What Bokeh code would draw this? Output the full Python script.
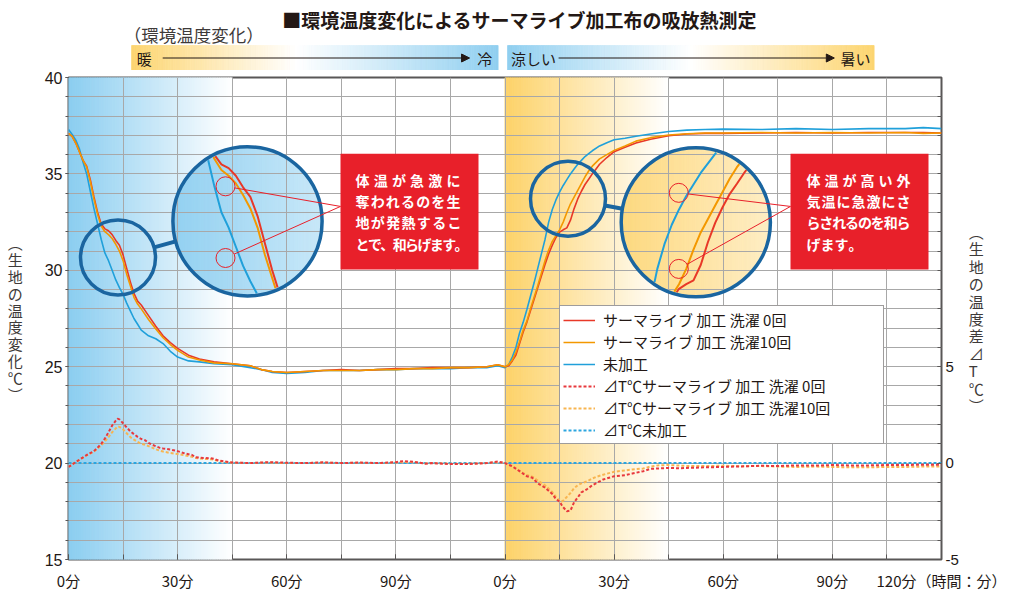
import numpy as np
from bokeh.plotting import figure
from bokeh.models import (Range1d, LinearAxis, FixedTicker, Legend, LegendItem,
                          Arrow, NormalHead)
from bokeh.layouts import column
from bokeh.embed import file_html
from bokeh.resources import INLINE
from bokeh.core.properties import value

# ------------------------------------------------------------------ data
# phase 1: warm -> cold environment (minutes 0..120)
phase1_min = [0, 1, 2, 3, 4, 5, 6, 7, 8, 9, 10, 11, 12, 13, 14, 15, 16, 17, 18, 19, 20,
              22, 24, 26, 28, 30, 33, 36, 40, 45, 50, 53, 56, 60, 65, 70, 75, 80, 85,
              90, 95, 100, 105, 110, 115, 118, 120]
untreated_1 = [37.3, 37.05, 36.75, 36.3, 35.6, 35.0, 34.1, 33.2, 32.4, 31.6, 30.9, 30.5,
               30.0, 29.5, 29.1, 28.75, 28.3, 27.9, 27.5, 27.2, 26.9, 26.6, 26.45, 26.2,
               25.8, 25.5, 25.3, 25.25, 25.15, 25.1, 24.95, 24.85, 24.7, 24.65, 24.7, 24.8,
               24.8, 24.8, 24.85, 24.85, 24.9, 24.9, 24.9, 24.95, 24.95, 25.05, 24.95]
wash0_1 = [37.1, 36.95, 36.6, 36.15, 35.7, 35.4, 34.7, 33.8, 33.0, 32.4, 32.15, 32.05,
           31.85, 31.55, 31.3, 30.8, 30.1, 29.4, 28.8, 28.4, 28.2, 27.65, 27.1, 26.6,
           26.25, 25.95, 25.6, 25.4, 25.25, 25.15, 25.05, 24.85, 24.75, 24.7, 24.75, 24.8,
           24.85, 24.8, 24.85, 24.9, 24.9, 24.95, 24.95, 24.95, 25.0, 25.1, 25.0]
wash10_1 = [37.1, 36.95, 36.6, 36.15, 35.7, 35.35, 34.6, 33.7, 32.9, 32.3, 32.0, 31.85,
            31.65, 31.35, 31.0, 30.5, 29.8, 29.2, 28.6, 28.25, 28.0, 27.45, 26.95, 26.5,
            26.15, 25.85, 25.5, 25.35, 25.2, 25.15, 25.05, 24.85, 24.75, 24.7, 24.75, 24.8,
            24.8, 24.8, 24.85, 24.85, 24.9, 24.9, 24.95, 24.95, 25.0, 25.1, 25.0]

dt1_min = [0, 2, 4, 5, 7, 8, 9, 10, 11, 12, 13, 13.5, 14, 15, 16, 17, 18, 19, 20, 21, 22,
           23, 24, 25, 26, 28, 30, 32, 34, 35, 37, 39, 40, 41, 43, 45, 50, 55, 60, 65, 70,
           75, 80, 85, 90, 92, 95, 98, 100, 105, 110, 115, 118, 120]
dt_wash0_1 = [-0.2, 0.05, 0.3, 0.42, 0.62, 0.8, 1.0, 1.27, 1.6, 1.95, 2.2, 2.3, 2.27, 2.07,
              1.85, 1.65, 1.5, 1.36, 1.25, 1.19, 1.05, 0.95, 0.88, 0.8, 0.76, 0.7, 0.62,
              0.5, 0.42, 0.3, 0.27, 0.25, 0.22, 0.15, 0.08, 0.03, 0.0, 0.05, 0.02, 0.0,
              0.04, 0.0, 0.03, 0.0, 0.05, 0.1, 0.07, -0.03, 0.0, -0.05, -0.05, 0.0, 0.08, 0.0]
dt_wash10_1 = [-0.2, 0.05, 0.28, 0.4, 0.6, 0.75, 0.92, 1.12, 1.35, 1.6, 1.8, 1.9, 1.88,
               1.75, 1.55, 1.35, 1.22, 1.1, 1.0, 0.95, 0.88, 0.8, 0.72, 0.65, 0.6, 0.52,
               0.47, 0.4, 0.33, 0.27, 0.22, 0.2, 0.18, 0.12, 0.06, 0.02, 0.0, 0.03, 0.0,
               0.0, 0.03, 0.0, 0.02, 0.0, 0.03, 0.06, 0.05, -0.02, 0.0, -0.03, -0.03, 0.0,
               0.05, 0.0]
dt_untreated_min = [0, 120]
dt_untreated = [0.0, 0.0]

# phase 2: cool -> hot environment (minutes 0..120)
phase2_min = [0, 1, 2, 3, 4, 5, 6, 7, 8, 9, 10, 11, 12, 13, 14, 15, 16, 17, 18, 19, 20, 21,
              22, 23, 24, 26, 28, 30, 33, 36, 40, 45, 50, 55, 60, 70, 80, 90, 100, 110,
              115, 120]
untreated_2 = [24.97, 25.1, 25.5, 26.0, 26.75, 27.3, 27.95, 28.65, 29.35, 30.1, 30.85, 31.6,
               32.5, 33.15, 33.65, 34.05, 34.4, 34.7, 35.0, 35.25, 35.5, 35.7, 35.9, 36.05,
               36.2, 36.45, 36.62, 36.77, 36.85, 36.95, 37.07, 37.2, 37.27, 37.3, 37.32,
               37.3, 37.35, 37.3, 37.35, 37.35, 37.4, 37.35]
wash0_2 = [24.97, 25.05, 25.3, 25.6, 26.2, 26.8, 27.3, 27.9, 28.5, 29.1, 29.7, 30.3, 30.85,
           31.3, 31.7, 31.98, 32.1, 32.2, 32.6, 33.2, 33.7, 34.1, 34.45, 34.72, 35.0, 35.5,
           35.85, 36.15, 36.38, 36.6, 36.8, 36.98, 37.07, 37.1, 37.1, 37.12, 37.15, 37.12,
           37.15, 37.15, 37.15, 37.12]
wash10_2 = [24.97, 25.1, 25.35, 25.75, 26.3, 26.9, 27.35, 28.0, 28.6, 29.2, 29.85, 30.5,
            31.05, 31.5, 31.8, 32.1, 32.5, 33.0, 33.45, 33.8, 34.15, 34.5, 34.85, 35.15,
            35.4, 35.78, 36.0, 36.22, 36.45, 36.7, 36.88, 37.02, 37.08, 37.12, 37.12,
            37.15, 37.12, 37.15, 37.12, 37.15, 37.1, 37.12]

dt2_min = [0, 2, 4, 6, 7.5, 9, 11, 13, 14, 15, 15.5, 16, 17, 18, 19, 20, 21, 22.5, 24, 25,
           27, 30, 33, 35, 38, 40, 42, 45, 48, 50, 55, 60, 65, 70, 75, 80, 85, 90, 95, 100,
           105, 110, 115, 120]
dt_wash0_2 = [0, -0.17, -0.42, -0.68, -0.76, -1.05, -1.27, -1.6, -1.86, -2.0, -2.15, -2.29,
              -2.5, -2.46, -2.03, -1.78, -1.52, -1.36, -1.15, -1.05, -0.85, -0.68, -0.63,
              -0.54, -0.42, -0.3, -0.28, -0.25, -0.27, -0.25, -0.22, -0.2, -0.17, -0.14,
              -0.15, -0.12, -0.13, -0.1, -0.12, -0.12, -0.1, -0.1, -0.08, -0.08]
dt_wash10_2 = [0, -0.15, -0.4, -0.62, -0.7, -0.9, -1.15, -1.5, -1.75, -1.95, -2.0, -1.95,
               -1.75, -1.55, -1.3, -1.15, -1.05, -0.95, -0.8, -0.72, -0.6, -0.45, -0.38,
               -0.33, -0.28, -0.18, -0.12, -0.1, -0.13, -0.15, -0.15, -0.14, -0.16, -0.15,
               -0.18, -0.2, -0.18, -0.2, -0.22, -0.22, -0.2, -0.2, -0.18, -0.18]

x_tick_minutes = [0, 30, 60, 90, 120, 150, 180, 210, 240]
x_tick_labels = ["0分", "30分", "60分", "90分", "0分", "30分", "60分", "90分", "120分（時間：分）"]
dt_ticks = [-5, 0, 5]
dt_tick_labels = ["-5", "0", "5"]
series_labels = ["サーマライブ 加工 洗濯 0回", "サーマライブ 加工 洗濯10回", "未加工",
                 "⊿T℃サーマライブ 加工 洗濯 0回", "⊿T℃サーマライブ 加工 洗濯10回", "⊿T℃未加工"]
left_title = ["︵", "生", "地", "の", "温", "度", "変", "化", "℃", "︶"]
right_title = ["︵", "生", "地", "の", "温", "度", "差", "⊿", "T", "℃", "︶"]

# ------------------------------------------------------------------ style / layout
JP = "Noto Sans CJK JP"
NUM = "Liberation Sans"
DARK = "#231815"
GREY_TXT = "#3e3a39"
RED, ORANGE, BLUE = "#e83828", "#f39800", "#20a0da"
RED_D, ORANGE_D, BLUE_D = "#e8383d", "#f8b551", "#2ca6e0"
BOX_RED = "#e8202a"
RING = "#1a65a0"
BLUE_BG = (138, 205, 240)
YELLOW_BG = (253, 210, 104)
WHITE = (255, 255, 255)

W = 1010
HEAD_H = 70
FRAME_L, FRAME_W, FRAME_H = 68, 873, 486
FRAME_TOP = HEAD_H + 7
PX = FRAME_W / 240.0
PY = FRAME_H / 25.0


def sx2t(sx):
    return (sx - FRAME_L) / PX


def sy2T(sy):
    return 40 - (sy - FRAME_TOP) / PY


def hexc(c):
    return "#%02x%02x%02x" % tuple(int(round(v)) for v in c)


def lerp(c1, c2, f):
    f = min(max(f, 0.0), 1.0)
    return tuple(a + (b - a) * f for a, b in zip(c1, c2))


def bg_color(t):
    if t <= 45:
        return hexc(lerp(BLUE_BG, WHITE, t / 45.0))
    if 120 <= t <= 165:
        return hexc(lerp(YELLOW_BG, WHITE, (t - 120) / 45.0))
    return "#ffffff"


# ------------------------------------------------------------------ header figure
h = figure(width=W, height=HEAD_H, x_range=Range1d(0, W), y_range=Range1d(HEAD_H, 0),
           output_backend="svg", toolbar_location=None, min_border=0,
           x_axis_location=None, y_axis_location=None, outline_line_color=None)
h.grid.visible = False

h.text(x=[522], y=[19], text=["■環境温度変化によるサーマライブ加工布の吸放熱測定"],
       text_font=value(JP), text_font_style="bold", text_font_size="19px",
       text_align="center", text_baseline="middle", text_color=DARK)
h.text(x=[64], y=[33.5], text=["（環境温度変化）"], text_font=value(JP),
       text_font_size="17.5px", text_align="left", text_baseline="middle", text_color=GREY_TXT)


def band(x0, x1, stops):
    n = 150
    lefts, rights, cols = [], [], []
    for k in range(n):
        f = (k + 0.5) / n
        for (fa, ca), (fb, cb) in zip(stops[:-1], stops[1:]):
            if fa <= f <= fb:
                col = lerp(ca, cb, (f - fa) / (fb - fa))
                break
        lefts.append(x0 + (x1 - x0) * k / n)
        rights.append(x0 + (x1 - x0) * (k + 1) / n)
        cols.append(hexc(col))
    h.quad(left=lefts, right=rights, top=45, bottom=70, fill_color=cols, line_color=cols,
           line_width=0.8)


BAND_Y = (253, 213, 112)
BAND_B = (144, 207, 240)
band(73, 497, [(0, BAND_Y), (0.45, WHITE), (1.0, BAND_B)])
band(508, 932, [(0, BAND_B), (0.5, WHITE), (1.0, BAND_Y)])

h.text(x=[87.5, 481.5], y=[57.5, 57.5], text=["暖", "冷"], text_font=value(JP),
       text_font_size="15px", text_align="center", text_baseline="middle", text_color=DARK)
h.text(x=[512], y=[57.5], text=["涼しい"], text_font=value(JP), text_font_size="15px",
       text_align="left", text_baseline="middle", text_color=DARK)
h.text(x=[928], y=[57.5], text=["暑い"], text_font=value(JP), text_font_size="15px",
       text_align="right", text_baseline="middle", text_color=DARK)
for xs_, xe_ in [(109, 464), (567, 886)]:
    h.add_layout(Arrow(end=NormalHead(size=8, fill_color=DARK, line_color=DARK, line_width=1),
                       x_start=xs_, y_start=57.5, x_end=xe_, y_end=57.5,
                       line_color=DARK, line_width=1))

# ------------------------------------------------------------------ main figure
p = figure(width=W, height=523, x_range=Range1d(0, 240), y_range=Range1d(15, 40),
           output_backend="svg", toolbar_location=None,
           min_border_left=FRAME_L, min_border_right=W - FRAME_L - FRAME_W,
           min_border_top=7, min_border_bottom=30,
           outline_line_color="#595757", outline_line_width=2)
p.extra_y_ranges = {"dt": Range1d(-5, 20)}

# background gradients
t_bg = []
for k in range(90):
    t_bg.append((k * 0.5, k * 0.5 + 0.5))
for k in range(90):
    t_bg.append((120 + k * 0.5, 120 + k * 0.5 + 0.5))
bg_cols = [bg_color((a + b) / 2) for a, b in t_bg]
p.quad(left=[a for a, b in t_bg], right=[b for a, b in t_bg], bottom=15, top=40,
       fill_color=bg_cols, line_color=bg_cols, line_width=1, level="image")

# concatenated series
t1 = np.array(phase1_min, float)
t2 = np.array(phase2_min, float) + 120
t_all = np.concatenate([t1, t2[1:]])
blue_all = np.concatenate([untreated_1, untreated_2[1:]])
red_all = np.concatenate([wash0_1, wash0_2[1:]])
orange_all = np.concatenate([wash10_1, wash10_2[1:]])
dtt = np.concatenate([np.array(dt1_min, float), np.array(dt2_min[1:], float) + 120])
dt_red_all = np.concatenate([dt_wash0_1, dt_wash0_2[1:]])
dt_orange_all = np.concatenate([dt_wash10_1, dt_wash10_2[1:]])
dtt_u = [dt_untreated_min[0], dt_untreated_min[1] + 120 + 120]
dt_u = [dt_untreated[0], dt_untreated[1]]

# magnifier geometry (data coords of circle centres, radii in px)
MAGS = [
    dict(small=(sx2t(117.5), sy2T(258.5)), big=(sx2t(247), sy2T(222)),
         marks=[(-22, -35.3), (-22, 37)], anchor=(sx2t(340), sy2T(207))),
    dict(small=(sx2t(567.5), sy2T(199.2)), big=(sx2t(695.3), sy2T(223)),
         marks=[(-17, -29.7), (-17, 47)], anchor=(sx2t(790), sy2T(207))),
]
R_SMALL, R_BIG = 37.5, 74.6
MAG = R_BIG / R_SMALL


def circle_fill(mg, n=70):
    cb, cs = mg["big"], mg["small"]
    xs, ys, cols = [], [], []
    R = R_BIG
    for k in range(n):
        xa = -R + 2 * R * k / n
        xb = min(R, xa + 2 * R / n + 0.6)
        xx = np.linspace(xa, xb, 5)
        top = np.sqrt(np.maximum(R * R - xx ** 2, 0))
        px_ = np.concatenate([xx, xx[::-1]])
        py_ = np.concatenate([top, -top[::-1]])
        xs.append(list(cb[0] + px_ / PX))
        ys.append(list(cb[1] + py_ / PY))
        ts = cs[0] + ((xa + xb) / 2) / MAG / PX
        cols.append(bg_color(ts))
    p.patches(xs, ys, fill_color=cols, line_color=cols, line_width=0.8, level="image")


def magnify(ts, Ts, mg, R):
    cb, cs = mg["big"], mg["small"]
    X = cb[0] * PX + (np.asarray(ts) * PX - cs[0] * PX) * MAG
    Y = cb[1] * PY + (np.asarray(Ts) * PY - cs[1] * PY) * MAG
    cx, cy = cb[0] * PX, cb[1] * PY
    ox, oy, last = [], [], None
    for i in range(len(X) - 1):
        x0, y0, x1, y1 = X[i], Y[i], X[i + 1], Y[i + 1]
        dx, dy = x1 - x0, y1 - y0
        fx, fy = x0 - cx, y0 - cy
        a = dx * dx + dy * dy
        if a == 0:
            continue
        b = 2 * (fx * dx + fy * dy)
        c = fx * fx + fy * fy - R * R
        disc = b * b - 4 * a * c
        if disc <= 0:
            continue
        sq = disc ** 0.5
        lo = max(0.0, (-b - sq) / (2 * a))
        hi = min(1.0, (-b + sq) / (2 * a))
        if lo >= hi:
            continue
        pa = (x0 + lo * dx, y0 + lo * dy)
        pb = (x0 + hi * dx, y0 + hi * dy)
        if last is not None and abs(last[0] - pa[0]) < 1e-9 and abs(last[1] - pa[1]) < 1e-9:
            ox.append(pb[0]); oy.append(pb[1])
        else:
            if ox:
                ox.append(np.nan); oy.append(np.nan)
            ox += [pa[0], pb[0]]; oy += [pa[1], pb[1]]
        last = pb
    return [v / PX for v in ox], [v / PY for v in oy]


for mg in MAGS:
    circle_fill(mg)

# grid / axes
p.xgrid.ticker = FixedTicker(ticks=list(range(0, 241, 15)))
p.ygrid.ticker = FixedTicker(ticks=list(range(15, 41)))
p.grid.grid_line_color = "#a8a8a8"
p.grid.grid_line_width = 1

p.xaxis.ticker = FixedTicker(ticks=x_tick_minutes, minor_ticks=list(range(0, 241, 15)))
p.xaxis.major_label_overrides = {m: lab for m, lab in zip(x_tick_minutes, x_tick_labels)}
p.xaxis.major_tick_in = 5
p.xaxis.major_tick_out = 0
p.xaxis.minor_tick_in = 5
p.xaxis.minor_tick_out = 0
p.xaxis.major_label_standoff = 10
p.xaxis.major_label_text_font = JP
p.xaxis.major_label_text_font_size = "15px"

p.yaxis.ticker = FixedTicker(ticks=[15, 20, 25, 30, 35, 40], minor_ticks=list(range(15, 41)))
p.yaxis.major_tick_in = 0
p.yaxis.major_tick_out = 3
p.yaxis.minor_tick_in = 0
p.yaxis.minor_tick_out = 3
p.yaxis.major_label_standoff = 3
p.yaxis.major_label_text_font = NUM
p.yaxis.major_label_text_font_size = "16px"
p.yaxis.axis_label = "\n".join(left_title)
p.yaxis.axis_label_orientation = "horizontal"
p.yaxis.axis_label_standoff = 19
p.yaxis.axis_label_text_line_height = 0.8
p.yaxis.axis_label_text_align = "center"

ax_r = LinearAxis(y_range_name="dt", ticker=FixedTicker(ticks=dt_ticks, minor_ticks=list(range(-5, 21))))
ax_r.major_label_overrides = {v: s for v, s in zip(dt_ticks, dt_tick_labels)}
ax_r.major_tick_in = 4
ax_r.major_tick_out = 0
ax_r.minor_tick_in = 4
ax_r.minor_tick_out = 0
ax_r.major_label_standoff = 4
ax_r.major_label_text_font = NUM
ax_r.major_label_text_font_size = "15px"
ax_r.axis_label = "\n".join(right_title)
ax_r.axis_label_orientation = "horizontal"
ax_r.axis_label_standoff = 7
ax_r.axis_label_text_line_height = 0.83
ax_r.axis_label_text_align = "center"
p.add_layout(ax_r, "right")

for ax in [p.xaxis[0], p.yaxis[0], ax_r]:
    ax.axis_line_color = None
    ax.major_tick_line_color = "#595757"
    ax.minor_tick_line_color = "#595757"
    ax.major_label_text_color = DARK
    ax.axis_label_text_font = JP
    ax.axis_label_text_font_size = "15px"
    ax.axis_label_text_font_style = "normal"
    ax.axis_label_text_color = GREY_TXT

# data lines
r_blue = p.line(t_all, blue_all, line_color=BLUE, line_width=1.6)
r_red = p.line(t_all, red_all, line_color=RED, line_width=1.6)
r_orange = p.line(t_all, orange_all, line_color=ORANGE, line_width=1.6)
r_dt_blue = p.line(dtt_u, dt_u, y_range_name="dt", line_color=BLUE_D, line_width=2, line_dash="3 2")
r_dt_orange = p.line(dtt, dt_orange_all, y_range_name="dt", line_color=ORANGE_D, line_width=2, line_dash="3 2")
r_dt_red = p.line(dtt, dt_red_all, y_range_name="dt", line_color=RED_D, line_width=2, line_dash="3 2")

# magnified views
for mg in MAGS:
    for ser, col in [(blue_all, BLUE), (orange_all, ORANGE), (red_all, RED)]:
        mx, my = magnify(t_all, ser, mg, R_BIG - 1.5)
        p.line(mx, my, line_color=col, line_width=2)
    cb, cs = mg["big"], mg["small"]
    vx, vy = (cb[0] - cs[0]) * PX, (cb[1] - cs[1]) * PY
    d = (vx * vx + vy * vy) ** 0.5
    ux, uy = vx / d, vy / d
    p.segment(x0=[cs[0] + ux * R_SMALL / PX], y0=[cs[1] + uy * R_SMALL / PY],
              x1=[cb[0] - ux * R_BIG / PX], y1=[cb[1] - uy * R_BIG / PY],
              line_color=RING, line_width=4)
    p.scatter([cs[0], cb[0]], [cs[1], cb[1]], size=[2 * R_SMALL, 2 * R_BIG], marker="circle",
              fill_color=None, line_color=RING, line_width=3.5)
    ax_, ay_ = mg["anchor"]
    for ox_, oy_ in mg["marks"]:
        mx_, my_ = cb[0] + ox_ / PX, cb[1] - oy_ / PY
        wx, wy = (ax_ - mx_) * PX, (ay_ - my_) * PY
        dd = (wx * wx + wy * wy) ** 0.5
        p.segment(x0=[mx_ + wx / dd * 9.5 / PX], y0=[my_ + wy / dd * 9.5 / PY],
                  x1=[ax_], y1=[ay_], line_color=BOX_RED, line_width=1)
        p.scatter([mx_], [my_], size=19, marker="circle", fill_color=None,
                  line_color=BOX_RED, line_width=1)

# red callout boxes
notes = [
    dict(box=(340, 478), x0=355,
         lines=["体温が急激に", "奪われるのを生", "地が発熱するこ", "とで、和らげます。"],
         widths=[105, 105, 106, 113]),
    dict(box=(790, 928), x0=806,
         lines=["体温が高い外", "気温に急激にさ", "らされるのを和ら", "げます。"],
         widths=[104, 104, 104, None]),
]
line_y = [180, 201.7, 223, 244.5]
CW = 14
for nt in notes:
    p.quad(left=[sx2t(nt["box"][0])], right=[sx2t(nt["box"][1])], top=[sy2T(154)],
           bottom=[sy2T(270.7)], fill_color=BOX_RED, line_color=None)
    cx_l, cy_l, ch_l = [], [], []
    for ln, wd, ly in zip(nt["lines"], nt["widths"], line_y):
        n = len(ln)
        step = CW if wd is None else (wd - CW) / (n - 1)
        for i, ch in enumerate(ln):
            cx_l.append(sx2t(nt["x0"] + CW / 2 + i * step))
            cy_l.append(sy2T(ly))
            ch_l.append(ch)
    p.text(x=cx_l, y=cy_l, text=ch_l, text_font=value(JP), text_font_style="bold",
           text_font_size="14px", text_color="white", text_align="center", text_baseline="middle")

# legend
legend = Legend(items=[LegendItem(label=lab, renderers=[r]) for lab, r in zip(
    series_labels, [r_red, r_orange, r_blue, r_dt_red, r_dt_orange, r_dt_blue])],
    location=(491, 115), margin=0, padding=3, spacing=1, label_height=20, glyph_height=20,
    glyph_width=32, label_standoff=8, label_width=277,
    border_line_color=GREY_TXT, border_line_width=1.5, background_fill_color="white",
    background_fill_alpha=1.0, label_text_font=JP, label_text_font_size="15px",
    label_text_color=DARK)
p.add_layout(legend)

layout = column(h, p)
open("out.html", "w").write(file_html(layout, INLINE))
